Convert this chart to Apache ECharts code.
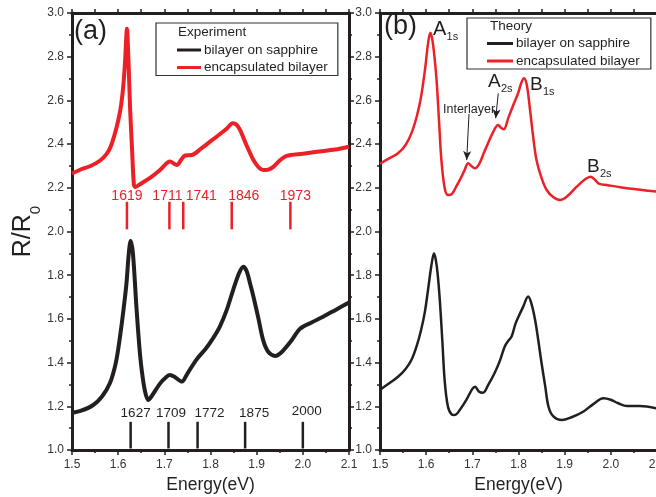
<!DOCTYPE html>
<html><head><meta charset="utf-8">
<script src="https://cdn.jsdelivr.net/npm/echarts@6/dist/echarts.min.js"></script>
<style>html,body{margin:0;padding:0;background:#fff}#c{width:656px;height:497px}</style>
</head><body><div id="c"></div>
<script>
// ---------- DATA ----------
// Panel (a) Experiment: encapsulated bilayer (red)
const expEncX = [1.500,1.520,1.540,1.561,1.575,1.585,1.597,1.605,1.611,1.615,1.619,1.622,1.626,1.630,1.634,1.637,1.650,1.669,1.690,1.705,1.712,1.727,1.737,1.745,1.760,1.780,1.799,1.820,1.835,1.848,1.856,1.864,1.878,1.893,1.905,1.914,1.925,1.936,1.950,1.965,2.000,2.030,2.070,2.100];
const expEncY = [2.265,2.285,2.300,2.325,2.355,2.395,2.480,2.560,2.663,2.780,2.928,2.800,2.556,2.380,2.215,2.204,2.220,2.245,2.280,2.312,2.320,2.304,2.330,2.348,2.350,2.380,2.411,2.445,2.470,2.495,2.490,2.465,2.395,2.327,2.292,2.281,2.283,2.296,2.325,2.346,2.356,2.365,2.375,2.388];
// Panel (a) Experiment: bilayer on sapphire (black)
const expSapX = [1.500,1.520,1.546,1.565,1.582,1.595,1.604,1.612,1.618,1.623,1.627,1.632,1.640,1.646,1.651,1.658,1.665,1.672,1.691,1.705,1.712,1.722,1.738,1.750,1.770,1.790,1.805,1.820,1.835,1.849,1.862,1.871,1.878,1.886,1.893,1.904,1.914,1.925,1.940,1.955,1.975,1.994,2.020,2.044,2.070,2.100];
const expSapY = [1.170,1.180,1.206,1.245,1.305,1.400,1.519,1.650,1.763,1.900,1.958,1.900,1.640,1.470,1.366,1.270,1.229,1.245,1.305,1.335,1.343,1.335,1.313,1.350,1.415,1.465,1.510,1.564,1.640,1.732,1.810,1.839,1.820,1.760,1.702,1.600,1.503,1.450,1.430,1.450,1.500,1.555,1.585,1.610,1.640,1.675];
// Panel (b) Theory: encapsulated bilayer (red)
const thEncX = [1.500,1.520,1.539,1.555,1.568,1.580,1.589,1.598,1.604,1.609,1.614,1.622,1.628,1.633,1.640,1.647,1.655,1.665,1.673,1.683,1.691,1.698,1.705,1.715,1.725,1.734,1.745,1.756,1.762,1.768,1.778,1.789,1.799,1.806,1.812,1.818,1.825,1.832,1.839,1.850,1.861,1.875,1.890,1.905,1.926,1.945,1.956,1.965,1.975,1.991,2.020,2.060,2.100];
const thEncY = [2.310,2.335,2.358,2.395,2.449,2.530,2.617,2.750,2.860,2.910,2.870,2.708,2.500,2.327,2.200,2.167,2.170,2.205,2.236,2.280,2.312,2.300,2.289,2.310,2.360,2.404,2.455,2.487,2.475,2.468,2.520,2.580,2.632,2.680,2.701,2.670,2.556,2.430,2.327,2.245,2.190,2.158,2.144,2.160,2.205,2.240,2.251,2.238,2.218,2.213,2.203,2.192,2.182];
// Panel (b) Theory: bilayer on sapphire (black)
const thSapX = [1.500,1.520,1.539,1.555,1.568,1.580,1.589,1.597,1.604,1.611,1.617,1.623,1.629,1.635,1.640,1.647,1.655,1.662,1.675,1.687,1.700,1.706,1.714,1.723,1.735,1.748,1.760,1.770,1.778,1.785,1.793,1.800,1.810,1.821,1.828,1.836,1.843,1.850,1.858,1.865,1.875,1.894,1.915,1.940,1.962,1.984,2.000,2.015,2.035,2.063,2.100];
const thSapY = [1.275,1.305,1.335,1.370,1.412,1.480,1.549,1.630,1.732,1.840,1.900,1.840,1.702,1.500,1.320,1.200,1.163,1.160,1.190,1.229,1.280,1.290,1.268,1.262,1.300,1.351,1.410,1.473,1.500,1.519,1.575,1.610,1.655,1.702,1.670,1.595,1.500,1.397,1.290,1.198,1.155,1.137,1.150,1.175,1.210,1.237,1.230,1.215,1.201,1.201,1.190];
// Peak markers (meV)
const encPeaks = [1619, 1711, 1741, 1846, 1973];
const encMarkRange = [2.010, 2.136];
const sapPeaks = [1627, 1709, 1772, 1875, 2000];
const sapMarkRange = [1.007, 1.129];
// Axis ticks
const xTicks = [1.5, 1.6, 1.7, 1.8, 1.9, 2.0, 2.1];
const yTicks = [1.0, 1.2, 1.4, 1.6, 1.8, 2.0, 2.2, 2.4, 2.6, 2.8, 3.0];
// Annotations (panel b), anchored at text left/baseline in data units
const annoMain = ['A', 'A', 'B', 'B', 'Interlayer'];
const annoSub = ['1s', '2s', '1s', '2s', ''];
const annoX = [1.6148, 1.7339, 1.8249, 1.9483, 1.6365];
const annoY = [2.899, 2.661, 2.648, 2.272, 2.542];
const arrowFrom = [[1.6928, 2.5378], [1.7562, 2.6325]];
const arrowTo = [[1.6878, 2.3272], [1.7506, 2.5181]];

// ---------- STYLE ----------
const RED = '#ec2027', BLK = '#231f20';
const FONT = '"Liberation Sans", Arial, sans-serif';
const encLabelDx = [0, -2, 18, 12, 5];
const sapLabelDx = [5, 2.5, 12, 9, 4];
const sapLabelDy = [0, 0, 0, 0, -2];
const annoSize = [20, 19, 19, 19, 12.5];

const zip = (xs, ys) => xs.map((x, i) => [x, ys[i]]);
const fmt1 = v => v.toFixed(1);

function markerSeries(peaks, range, color, fs, dxArr, dyArr, xi, yi, textOff) {
  return {
    type: 'custom', xAxisIndex: xi, yAxisIndex: yi, silent: true, z: 5,
    data: peaks.map(p => [p / 1000, range[0], range[1]]),
    renderItem: function (params, api) {
      const i = params.dataIndex;
      const p0 = api.coord([api.value(0), api.value(1)]);
      const p1 = api.coord([api.value(0), api.value(2)]);
      return { type: 'group', children: [
        { type: 'line', shape: { x1: p0[0], y1: p0[1], x2: p1[0], y2: p1[1] }, style: { stroke: color, lineWidth: 2.5 } },
        { type: 'text', x: p1[0] + dxArr[i], y: p1[1] - textOff + (dyArr ? dyArr[i] : 0),
          style: { text: String(peaks[i]), fill: color, font: fs + 'px ' + FONT, align: 'center', verticalAlign: 'middle' } }
      ]};
    }
  };
}

function axisX(grid, pos, labels) {
  return {
    type: 'value', gridIndex: grid, position: pos, min: 1.5, max: 2.1,
    interval: labels ? 0.1 : 0.05,
    axisLine: { show: true, onZero: false, lineStyle: { color: BLK, width: 3 } },
    axisTick: { show: true, length: labels ? 5 : 4, lineStyle: { color: BLK, width: 1.5 } },
    minorTick: { show: labels, splitNumber: 2, length: 3, lineStyle: { color: BLK, width: 1.5 } },
    axisLabel: { show: labels, formatter: fmt1, fontSize: 12, color: '#333', fontFamily: FONT, margin: 9 },
    splitLine: { show: false },
    name: labels ? 'Energy(eV)' : '', nameLocation: 'middle', nameGap: 19,
    nameTextStyle: { fontSize: 17.5, color: BLK, fontFamily: FONT }
  };
}
function axisY(grid, pos, labels, name) {
  return {
    type: 'value', gridIndex: grid, position: pos, min: 1.0, max: 3.0, interval: 0.2,
    axisLine: { show: true, onZero: false, lineStyle: { color: BLK, width: 3 } },
    axisTick: { show: true, length: 5, lineStyle: { color: BLK, width: 1.5 } },
    minorTick: { show: true, splitNumber: 2, length: 3, lineStyle: { color: BLK, width: 1.5 } },
    axisLabel: { show: labels, formatter: fmt1, fontSize: 12, color: '#333', fontFamily: FONT, margin: 8 },
    splitLine: { show: false },
    name: name || '', nameLocation: 'middle', nameGap: 36,
    nameTextStyle: { fontSize: 25, color: BLK, fontFamily: FONT,
      rich: { s: { fontSize: 15, color: BLK, fontFamily: FONT, verticalAlign: 'bottom', padding: [0, 0, -8, 0] } } }
  };
}

const chart = echarts.init(document.getElementById('c'), null, { renderer: 'canvas' });
chart.setOption({
  animation: false,
  backgroundColor: '#fff',
  grid: [
    { left: 72, top: 13, width: 277, height: 437, outerBoundsMode: 'none', containLabel: false },
    { left: 380, top: 13, width: 277, height: 437, outerBoundsMode: 'none', containLabel: false }
  ],
  xAxis: [axisX(0, 'bottom', true), axisX(0, 'top', false), axisX(1, 'bottom', true), axisX(1, 'top', false)],
  yAxis: [axisY(0, 'left', true, 'R/R{s|0}'), axisY(0, 'right', false), axisY(1, 'left', true)],
  legend: [
    { data: ['bilayer on sapphire', 'encapsulated bilayer'], orient: 'vertical', left: 156, top: 23,
      padding: [20, 10, 1, 21], itemGap: 3.5, itemWidth: 24, itemHeight: 3, icon: 'rect',
      borderColor: '#333', borderWidth: 1.2, selectedMode: false,
      textStyle: { fontSize: 13.5, color: BLK, fontFamily: FONT, padding: [0, 0, 0, -2] } },
    { data: ['bilayer on sapphire', 'encapsulated bilayer'], orient: 'vertical', left: 467, top: 18,
      padding: [18.5, 11, 1, 20], itemGap: 3.5, itemWidth: 26, itemHeight: 3, icon: 'rect',
      borderColor: '#333', borderWidth: 1.2, selectedMode: false,
      textStyle: { fontSize: 13.5, color: BLK, fontFamily: FONT, padding: [0, 0, 0, -2] } }
  ],
  graphic: [
    { type: 'text', left: 178, top: 25, style: { text: 'Experiment', font: '13.5px ' + FONT, fill: BLK } },
    { type: 'text', left: 490, top: 19, style: { text: 'Theory', font: '13.5px ' + FONT, fill: BLK } },
    { type: 'text', left: 74, top: 18, style: { text: '(a)', font: '27px ' + FONT, fill: BLK } },
    { type: 'text', left: 384, top: 13, style: { text: '(b)', font: '27px ' + FONT, fill: BLK } }
  ],
  series: [
    { name: 'bilayer on sapphire', type: 'line', xAxisIndex: 0, yAxisIndex: 0, data: zip(expSapX, expSapY),
      showSymbol: false, smooth: 0.3, color: BLK, lineStyle: { width: 4, color: BLK, join: 'round' } },
    { name: 'encapsulated bilayer', type: 'line', xAxisIndex: 0, yAxisIndex: 0, data: zip(expEncX, expEncY),
      showSymbol: false, smooth: 0.3, color: RED, lineStyle: { width: 4, color: RED, join: 'round' } },
    { name: 'bilayer on sapphire', type: 'line', xAxisIndex: 2, yAxisIndex: 2, data: zip(thSapX, thSapY),
      showSymbol: false, smooth: 0.35, color: BLK, lineStyle: { width: 2.5, color: BLK, join: 'round' } },
    { name: 'encapsulated bilayer', type: 'line', xAxisIndex: 2, yAxisIndex: 2, data: zip(thEncX, thEncY),
      showSymbol: false, smooth: 0.35, color: RED, lineStyle: { width: 2.5, color: RED, join: 'round' },
      markLine: { silent: true, symbol: ['none', 'arrow'], symbolSize: [6, 9], animation: false,
        label: { show: false }, lineStyle: { color: BLK, width: 1, type: 'solid' },
        data: arrowFrom.map((f, i) => [{ coord: f }, { coord: arrowTo[i] }]) } },
    markerSeries(encPeaks, encMarkRange, RED, 14, encLabelDx, null, 0, 0, 6),
    markerSeries(sapPeaks, sapMarkRange, BLK, 13.5, sapLabelDx, sapLabelDy, 0, 0, 9),
    { type: 'custom', xAxisIndex: 2, yAxisIndex: 2, silent: true, z: 6,
      data: annoX.map((x, i) => [x, annoY[i]]),
      renderItem: function (params, api) {
        const i = params.dataIndex;
        const p = api.coord([api.value(0), api.value(1)]);
        const fs = annoSize[i];
        const kids = [{ type: 'text', x: p[0], y: p[1] + 0.22 * fs, style: { text: annoMain[i], fill: BLK,
          font: fs + 'px ' + FONT, align: 'left', verticalAlign: 'bottom' } }];
        if (annoSub[i]) kids.push({ type: 'text', x: p[0] + fs * 0.68, y: p[1] + 5 + 0.22 * 11, style: { text: annoSub[i], fill: BLK,
          font: '11px ' + FONT, align: 'left', verticalAlign: 'bottom' } });
        return { type: 'group', children: kids };
      } }
  ]
});
</script></body></html>
